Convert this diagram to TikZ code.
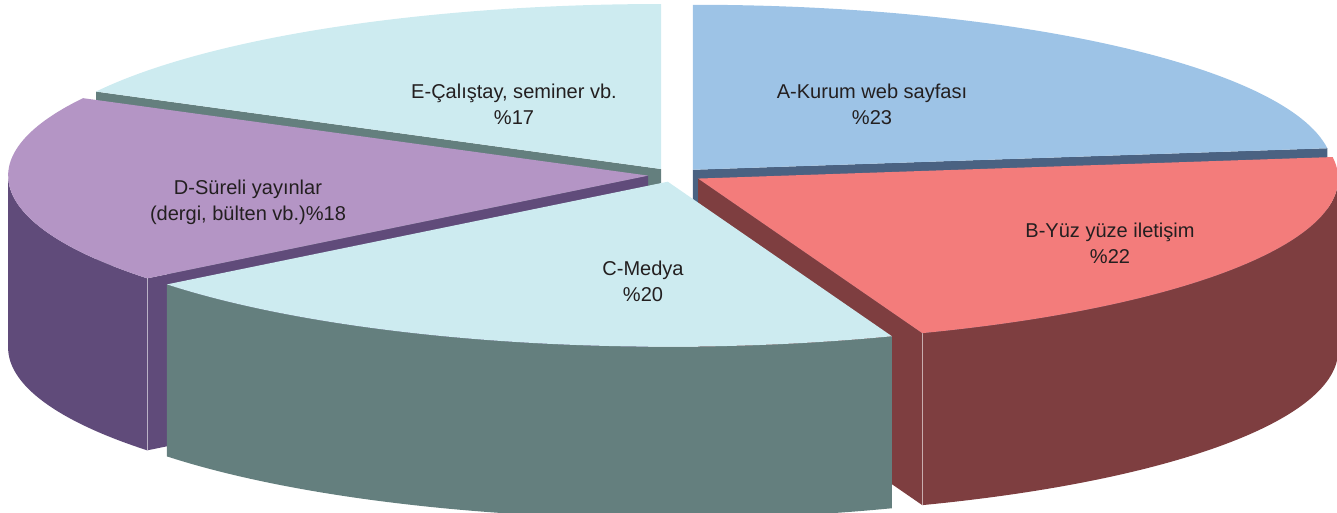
\documentclass[tikz,border=0pt]{standalone}
\usepackage{fontspec}
\setmainfont{Liberation Sans}
\usepackage{tikz}
\usetikzlibrary{calc}

\definecolor{topA}{HTML}{9DC3E6}
\definecolor{sideA}{HTML}{4A6282}
\definecolor{topB}{HTML}{F37C7B}
\definecolor{sideB}{HTML}{7E3E40}
\definecolor{topC}{HTML}{CDEBF0}
\definecolor{sideC}{HTML}{647F7E}
\definecolor{topD}{HTML}{B495C5}
\definecolor{sideD}{HTML}{604B7A}
\definecolor{labeltext}{HTML}{231F20}

\newcommand{\pieH}{172}

\begin{document}
\begin{tikzpicture}[x=0.02cm, y=0.02cm,
        rim/.style={x radius=640, y radius=165},
        pielabel/.style={font=\fontsize{11.4}{14.8}\selectfont, text=labeltext, align=center, inner sep=0pt},
        rimline/.style={white, opacity=0.45, line width=0.3pt}
      ]
        \useasboundingbox (0,0) rectangle (1337,513);

        % pie centre and the moved-out apex of each slice
        \coordinate (O) at (675,338);
        \coordinate (cA) at ($(O)+(48.75:27 and 6.96)$);
        \coordinate (cB) at ($(O)+(-31:27 and 6.96)$);
        \coordinate (cC) at ($(O)+(-105.5:27 and 6.96)$);
        \coordinate (cD) at ($(O)+(185.25:27 and 6.96)$);
        \coordinate (cE) at ($(O)+(121:27 and 6.96)$);

        % back slices (E and A)
        \fill[sideC] (cE) -- ($(cE)+(152:640 and 165)$) -- ++(0,-\pieH) -- ($(cE)+(0,-\pieH)$) -- cycle;
        \fill[sideA] (cA) -- ($(cA)+(7.5:640 and 165)$) -- ++(0,-\pieH) -- ($(cA)+(0,-\pieH)$) -- cycle;
        \fill[topC] (cE) -- ($(cE)+(90:640 and 165)$) arc[rim, start angle=90, end angle=152] -- cycle;
        \fill[topA] (cA) -- ($(cA)+(7.5:640 and 165)$) arc[rim, start angle=7.5, end angle=90] -- cycle;

        % slice D
        \fill[sideD] ($(cD)+(180:640 and 165)$) arc[rim, start angle=180, end angle=218.5] -- ++(0,-\pieH) arc[rim, start angle=218.5, end angle=180] -- cycle;
        \fill[sideD] (cD) -- ($(cD)+(218.5:640 and 165)$) -- ++(0,-\pieH) -- ($(cD)+(0,-\pieH)$) -- cycle;
        \fill[topD] (cD) -- ($(cD)+(152:640 and 165)$) arc[rim, start angle=152, end angle=218.5] -- cycle;
        \draw[rimline] ($(cD)+(218.5:640 and 165)$) -- ++(0,-\pieH);

        % slice B
        \fill[sideB] (cB) -- ($(cB)+(-69.5:640 and 165)$) -- ++(0,-\pieH) -- ($(cB)+(0,-\pieH)$) -- cycle;
        \fill[sideB] ($(cB)+(0:640 and 165)$) arc[rim, start angle=0, end angle=-69.5] -- ++(0,-\pieH) arc[rim, start angle=-69.5, end angle=0] -- cycle;
        \fill[topB] (cB) -- ($(cB)+(-69.5:640 and 165)$) arc[rim, start angle=-69.5, end angle=7.5] -- cycle;
        \draw[rimline] ($(cB)+(-69.5:640 and 165)$) -- ++(0,-\pieH);

        % slice C in front
        \fill[sideC] ($(cC)+(-141.5:640 and 165)$) arc[rim, start angle=-141.5, end angle=-69.5] -- ++(0,-\pieH) arc[rim, start angle=-69.5, end angle=-141.5] -- cycle;
        \fill[topC] (cC) -- ($(cC)+(-141.5:640 and 165)$) arc[rim, start angle=-141.5, end angle=-69.5] -- cycle;

        % data labels
        \node[pielabel] (labA) at (872,409) {A-Kurum web sayfası\\\%23};
        \node[pielabel] (labB) at (1110,270) {B-Yüz yüze iletişim\\\%22};
        \node[pielabel] (labC) at (643,232) {C-Medya\\\%20};
        \node[pielabel] (labD) at (248,311) {D-Süreli yayınlar\\(dergi, bülten vb.)\%18};
        \node[pielabel] (labE) at (514,409) {E-Çalıştay, seminer vb.\\\%17};

    \end{tikzpicture}
\end{document}
